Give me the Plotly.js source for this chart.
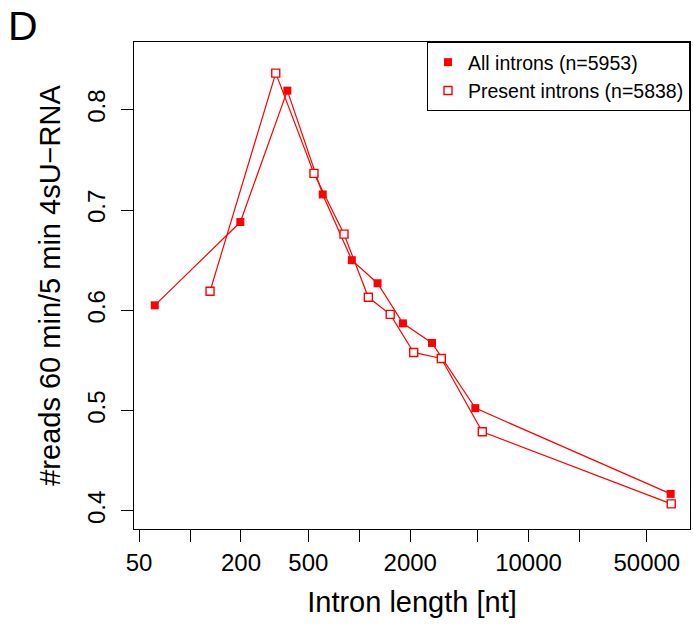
<!DOCTYPE html>
<html>
<head>
<meta charset="utf-8">
<script src="https://cdn.plot.ly/plotly-3.0.1.min.js"></script>
<style>html,body{margin:0;padding:0;background:#fff;}</style>
</head>
<body>
<div id="chart" style="width:693px;height:627px;"></div>
<script>
// Data
const allLength = [61.9, 198.3, 375.8, 608.3, 903.5, 1282, 1811, 2689, 4848, 69130];
const allRatio  = [0.605, 0.688, 0.819, 0.7155, 0.650, 0.627, 0.587, 0.5675, 0.5025, 0.417];
const presLength = [131.3, 321, 540, 812.6, 1131, 1523, 2097, 3052, 5331, 69680];
const presRatio  = [0.619, 0.8365, 0.7365, 0.676, 0.613, 0.596, 0.558, 0.552, 0.479, 0.407];
const allName = "All introns (n=5953)";
const presName = "Present introns (n=5838)";
const xTickVals = [50, 100, 200, 500, 1000, 2000, 5000, 10000, 20000, 50000];
const xTickText = ["50", "", "200", "500", "", "2000", "", "10000", "", "50000"];
const yTickVals = [0.4, 0.5, 0.6, 0.7, 0.8];
const yTickText = ["0.4", "0.5", "0.6", "0.7", "0.8"];

const red = "#FF0000";
const font = "Liberation Sans, Arial, Helvetica, sans-serif";

const traces = [
  {x: allLength, y: allRatio, type: "scatter", mode: "lines+markers", showlegend: false,
   line: {color: red, width: 1.2},
   marker: {symbol: "square", size: 8, color: red, line: {width: 0}}},
  {x: presLength, y: presRatio, type: "scatter", mode: "lines+markers", showlegend: false,
   line: {color: red, width: 1.2},
   marker: {symbol: "square", size: 8, color: "#FFFFFF", line: {color: red, width: 1.4}}},
  {x: [null], y: [null], type: "scatter", mode: "markers", name: allName,
   marker: {symbol: "square", size: 8, color: red, line: {width: 0}}},
  {x: [null], y: [null], type: "scatter", mode: "markers", name: presName,
   marker: {symbol: "square", size: 8, color: "#FFFFFF", line: {color: red, width: 1.4}}}
];

const layout = {
  width: 693, height: 627,
  margin: {l: 134, r: 3, t: 42, b: 98},
  paper_bgcolor: "#FFFFFF", plot_bgcolor: "#FFFFFF",
  font: {family: font, color: "#000000"},
  showlegend: true,
  legend: {x: 1, xanchor: "right", y: 1, yanchor: "top",
           bordercolor: "#000000", borderwidth: 1, bgcolor: "#FFFFFF",
           font: {family: font, size: 19.5, color: "#000"},
           tracegroupgap: 0, itemwidth: 30},
  xaxis: {type: "log", range: [1.669, 4.954], tickmode: "array",
          tickvals: xTickVals, ticktext: xTickText,
          ticks: "outside", ticklen: 12, tickwidth: 1, tickcolor: "#000",
          showline: true, linecolor: "#000", linewidth: 1, mirror: true,
          showgrid: false, zeroline: false,
          tickfont: {family: font, size: 24, color: "#000"},
          title: {text: "Intron length [nt]", font: {family: font, size: 29, color: "#000"}, standoff: 16}},
  yaxis: {range: [0.382, 0.8675], tickmode: "array",
          tickvals: yTickVals, ticktext: yTickText, tickangle: -90,
          ticks: "outside", ticklen: 12, tickwidth: 1, tickcolor: "#000",
          ticklabelstandoff: 6,
          showline: true, linecolor: "#000", linewidth: 1, mirror: true,
          showgrid: false, zeroline: false,
          tickfont: {family: font, size: 24, color: "#000"},
          title: {text: "#reads 60 min/5 min 4sU\u2212RNA", font: {family: font, size: 29, color: "#000"}, standoff: 14}},
  annotations: [
    {text: "D", xref: "paper", yref: "paper", x: -0.2, y: 1.033, xanchor: "center", yanchor: "middle",
     showarrow: false, font: {family: font, size: 41, color: "#000"}}
  ]
};

Plotly.newPlot("chart", traces, layout, {displayModeBar: false, staticPlot: true});
</script>
</body>
</html>
